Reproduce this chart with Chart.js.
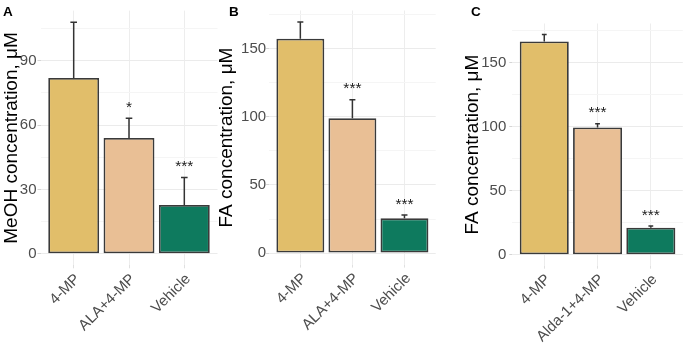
<!DOCTYPE html>
<html><head><meta charset="utf-8">
<script src="https://cdn.jsdelivr.net/npm/chart.js@4.4.1/dist/chart.umd.min.js"></script>
<style>
html,body{margin:0;padding:0;background:#fff;}
#wrap{position:relative;width:686px;height:346px;overflow:hidden;background:#fff;}
.panel{position:absolute;top:0;height:346px;}
.letter{position:absolute;font:bold 13.5px "Liberation Sans",Arial,sans-serif;line-height:13.5px;color:#000;}
</style></head><body>
<div id="wrap">
  <div class="panel" style="left:0;width:228px"><canvas id="cA" width="228" height="346"></canvas></div>
  <div class="panel" style="left:214px;width:228px"><canvas id="cB" width="228" height="346"></canvas></div>
  <div class="panel" style="left:458px;width:228px"><canvas id="cC" width="228" height="346"></canvas></div>
  <div class="letter" style="left:3px;top:4.6px">A</div>
  <div class="letter" style="left:229px;top:4.6px">B</div>
  <div class="letter" style="left:471px;top:4.6px">C</div>
</div>
<script>
// ---- data ----
const categoriesA = ['4-MP', 'ALA+4-MP', 'Vehicle'];
const categoriesB = ['4-MP', 'ALA+4-MP', 'Vehicle'];
const categoriesC = ['4-MP', 'Alda-1+4-MP', 'Vehicle'];

const meohMeanA  = [82.0, 54.0, 22.7];
const meohUpperA = [108.0, 63.2, 35.6];
const faMeanB    = [157.5, 99.0, 25.5];
const faUpperB   = [169.7, 112.6, 27.9];
const faMeanC    = [166.5, 99.3, 21.1];
const faUpperC   = [172.0, 102.3, 22.4];

const starsA = ['', '*', '***'];
const starsB = ['', '***', '***'];
const starsC = ['', '***', '***'];

const yTickLabelsA = [0, 30, 60, 90];
const yTickLabelsB = [0, 50, 100, 150];
const yTickLabelsC = [0, 50, 100, 150];

const titleA = 'MeOH concentration, \u03bcM';
const titleB = 'FA concentration, \u03bcM';
const titleC = 'FA concentration, \u03bcM';

const barColors = ['#E1BE6A', '#E9BF95', '#0E7A5E'];
// ---------------

const FONT = '"Liberation Sans", Arial, Helvetica, sans-serif';
Chart.defaults.font.family = FONT;

const errPlugin = {
  id: 'errbars',
  afterDatasetsDraw(chart) {
    const o = chart.options.plugins.errbars;
    const ctx = chart.ctx;
    const ys = chart.scales.y;
    const meta = chart.getDatasetMeta(0);
    ctx.save();
    ctx.strokeStyle = '#333333';
    ctx.lineWidth = 1.5;
    meta.data.forEach((bar, i) => {
      const yt = ys.getPixelForValue(o.upper[i]);
      ctx.beginPath();
      ctx.moveTo(bar.x, bar.y);
      ctx.lineTo(bar.x, yt);
      ctx.moveTo(bar.x - o.cap, yt);
      ctx.lineTo(bar.x + o.cap, yt);
      ctx.stroke();
      if (o.stars[i]) {
        ctx.fillStyle = '#1a1a1a';
        ctx.font = '15.5px ' + FONT;
        ctx.textAlign = 'center';
        ctx.textBaseline = 'alphabetic';
        ctx.fillText(o.stars[i], bar.x, yt - 6.5);
      }
    });
    ctx.restore();
  }
};

function buildPanel(id, cats, mean, upper, stars, majorTicks, title, g) {
  const major = majorTicks[1] - majorTicks[0];
  const minor = major / 2;
  const top = Math.max.apply(null, upper);
  const yMin = -0.05 * top, yMax = 1.05 * top;
  new Chart(document.getElementById(id), {
    type: 'bar',
    data: {
      datasets: [{
        data: mean.map((v, i) => ({x: i + 1, y: v})),
        backgroundColor: barColors,
        borderColor: '#3a3a3a',
        borderWidth: 1.8,
        borderSkipped: false,
        categoryPercentage: 1,
        barPercentage: 0.92
      }]
    },
    plugins: [errPlugin],
    options: {
      responsive: false,
      animation: false,
      events: [],
      layout: {padding: {left: 0, top: g.padTop, right: g.padRight, bottom: 0}},
      plugins: {
        legend: {display: false},
        tooltip: {enabled: false},
        errbars: {upper: upper, stars: stars, cap: g.cap}
      },
      scales: {
        x: {
          type: 'linear',
          offset: false,
          min: 0.4, max: 3.6,
          afterBuildTicks: (s) => { s.ticks = cats.map((c, i) => ({value: i + 1})); },
          afterFit: (s) => { s.height = g.xAxisHeight; s.paddingLeft = 0; s.paddingRight = 0; },
          border: {display: false},
          grid: {offset: false, color: '#EDEDED', lineWidth: 1, drawTicks: true, tickLength: 3, tickColor: '#E0E0E0'},
          ticks: {
            autoSkip: false,
            minRotation: 45, maxRotation: 45,
            padding: g.xPad,
            labelOffset: g.xLabelOffset,
            color: '#4D4D4D',
            font: {size: 15, family: FONT},
            callback: (v) => cats[v - 1]
          }
        },
        y: {
          type: 'linear',
          min: yMin, max: yMax,
          afterBuildTicks: (s) => {
            const t = [];
            for (let v = 0; v <= yMax; v += minor) t.push({value: v});
            s.ticks = t;
          },
          afterFit: (s) => { s.width = g.yAxisWidth; },
          border: {display: false},
          grid: {
            color: (c) => (c.tick && c.tick.value % major === 0) ? '#EBEBEB' : '#F5F5F5',
            lineWidth: 1,
            drawTicks: true,
            tickLength: 3,
            tickColor: (c) => (c.tick && c.tick.value % major === 0) ? '#D5D5D5' : 'rgba(0,0,0,0)'
          },
          ticks: {
            padding: g.yPad,
            color: '#4D4D4D',
            font: {size: 15, family: FONT},
            callback: (v) => (majorTicks.indexOf(v) >= 0 ? String(v) : '')
          },
          title: {
            display: true,
            text: title,
            color: '#000000',
            font: {size: 19, family: FONT},
            padding: {top: g.titlePad, bottom: 0}
          }
        }
      }
    }
  });
}

buildPanel('cA', categoriesA, meohMeanA, meohUpperA, starsA, yTickLabelsA, titleA,
  {padTop: 10.6, padRight: 10.5, yAxisWidth: 40.5, xAxisHeight: 80.7, titlePad: 0.3, yPad: 1, xPad: 2, xLabelOffset: 4, cap: 3.3});
buildPanel('cB', categoriesB, faMeanB, faUpperB, starsB, yTickLabelsB, titleB,
  {padTop: 10.5, padRight: 6.3, yAxisWidth: 55.1, xAxisHeight: 81.4, titlePad: 1.1, yPad: 0, xPad: 2, xLabelOffset: 4, cap: 3});
buildPanel('cC', categoriesC, faMeanC, faUpperC, starsC, yTickLabelsC, titleC,
  {padTop: 23.5, padRight: 3.2, yAxisWidth: 54.3, xAxisHeight: 80.3, titlePad: 3.1, yPad: 3, xPad: 2, xLabelOffset: 4, cap: 2.4});
</script>
</body></html>
